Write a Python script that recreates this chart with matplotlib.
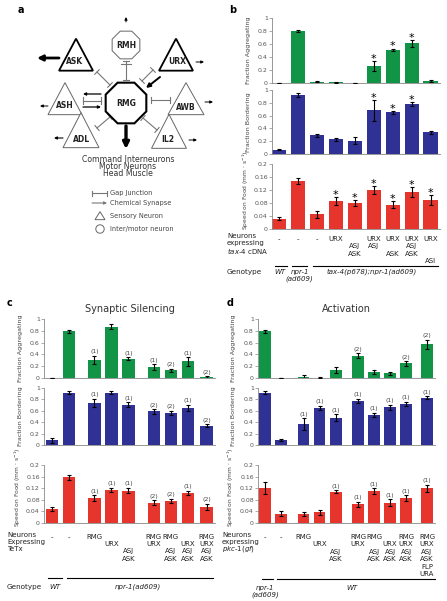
import numpy as np
import matplotlib
matplotlib.use('Agg')
import matplotlib.pyplot as plt
from matplotlib import transforms
from matplotlib.patches import Polygon, RegularPolygon, Circle

W, H = 447, 601
GREEN = '#129447'
BLUE = '#2f3194'
RED = '#e5352d'
GRAY = '#777777'

# ---- panel b : tax-4 rescue ----
b_x = [0, 1, 2, 3, 4, 5, 6, 7, 8]
b_agg = [0.0, 0.80, 0.02, 0.01, 0.0, 0.26, 0.51, 0.61, 0.03]
b_agg_err = [0.004, 0.02, 0.01, 0.005, 0.003, 0.08, 0.02, 0.05, 0.01]
b_agg_note = ['', '', '', '', '', '*', '*', '*', '']
b_bor = [0.07, 0.92, 0.29, 0.23, 0.21, 0.68, 0.65, 0.78, 0.34]
b_bor_err = [0.01, 0.03, 0.03, 0.02, 0.06, 0.16, 0.02, 0.03, 0.02]
b_bor_note = ['', '', '', '', '', '*', '*', '*', '']
b_spd = [0.032, 0.148, 0.045, 0.085, 0.080, 0.120, 0.075, 0.115, 0.090]
b_spd_err = [0.005, 0.01, 0.01, 0.012, 0.01, 0.012, 0.01, 0.015, 0.015]
b_spd_note = ['', '', '', '*', '*', '*', '*', '*', '*']
b_neurons = [['-'], ['-'], ['-'], ['URX'], ['', 'ASJ', 'ASK'], ['URX', 'ASJ'],
             ['URX', '', 'ASK'], ['URX', 'ASJ', 'ASK'], ['URX', '', '', 'ASI']]

# ---- panel c : synaptic silencing ----
c_x = [0, 1, 2.5, 3.5, 4.5, 6, 7, 8, 9.1]
c_agg = [0.0, 0.79, 0.31, 0.87, 0.33, 0.18, 0.13, 0.28, 0.01]
c_agg_err = [0.004, 0.02, 0.07, 0.04, 0.02, 0.05, 0.03, 0.07, 0.02]
c_agg_note = ['', '', '(1)', '', '(1)', '(1)', '(2)', '(1)', '(2)']
c_bor = [0.08, 0.92, 0.74, 0.92, 0.71, 0.59, 0.56, 0.65, 0.34]
c_bor_err = [0.04, 0.03, 0.07, 0.02, 0.04, 0.04, 0.04, 0.06, 0.03]
c_bor_note = ['', '', '(1)', '', '(1)', '(2)', '(2)', '(1)', '(2)']
c_spd = [0.048, 0.157, 0.085, 0.115, 0.112, 0.070, 0.076, 0.103, 0.056]
c_spd_err = [0.006, 0.008, 0.01, 0.007, 0.01, 0.008, 0.008, 0.008, 0.01]
c_spd_note = ['', '', '(1)', '(1)', '(1)', '(2)', '(2)', '(1)', '(2)']
c_neurons = [['-'], ['-'], ['RMG'], ['', 'URX'], ['', '', 'ASJ', 'ASK'],
             ['RMG', 'URX'], ['RMG', '', 'ASJ', 'ASK'], ['', 'URX', 'ASJ', 'ASK'],
             ['RMG', 'URX', 'ASJ', 'ASK']]

# ---- panel d : activation ----
d_x = [0, 1, 2.4, 3.4, 4.4, 5.8, 6.8, 7.8, 8.8, 10.1]
d_agg = [0.79, 0.0, 0.02, 0.005, 0.14, 0.38, 0.10, 0.08, 0.25, 0.57]
d_agg_err = [0.02, 0.003, 0.03, 0.005, 0.05, 0.04, 0.04, 0.03, 0.04, 0.08]
d_agg_note = ['', '', '', '', '', '(2)', '', '', '(2)', '(2)']
d_bor = [0.92, 0.09, 0.37, 0.65, 0.48, 0.77, 0.53, 0.66, 0.72, 0.83]
d_bor_err = [0.03, 0.02, 0.1, 0.04, 0.06, 0.04, 0.04, 0.05, 0.04, 0.03]
d_bor_note = ['', '', '(1)', '(1)', '(1)', '(1)', '(1)', '(1)', '(1)', '(1)']
d_spd = [0.120, 0.032, 0.032, 0.037, 0.108, 0.065, 0.109, 0.070, 0.086, 0.120]
d_spd_err = [0.02, 0.008, 0.007, 0.008, 0.006, 0.009, 0.01, 0.012, 0.01, 0.012]
d_spd_note = ['', '', '', '', '(1)', '(1)', '(1)', '(1)', '(1)', '(1)']
d_neurons = [['-'], ['-'], ['RMG'], ['', 'URX'], ['', '', 'ASJ', 'ASK'],
             ['RMG', 'URX'], ['RMG', '', 'ASJ', 'ASK'], ['', 'URX', 'ASJ', 'ASK'],
             ['RMG', 'URX', 'ASJ', 'ASK'],
             ['RMG', 'URX', 'ASJ', 'ASK', 'FLP', 'URA']]

fig = plt.figure(figsize=(W / 100, H / 100), dpi=100)


def fy(py):
    return 1 - py / H


def px_rect(l, t, r, b):
    return [l / W, 1 - b / H, (r - l) / W, (b - t) / H]


def tick_fmt(v):
    s = '%g' % round(v, 3)
    return s


def bar_axes(rect, x, vals, errs, color, ymax, step, ylabel, xlim, notes,
             lab_size=4.6, lab_y=0.5):
    ax = fig.add_axes(rect)
    ax.patch.set_alpha(0)
    ax.bar(x, vals, width=0.74, color=color, zorder=2)
    ax.errorbar(x, vals, yerr=errs, fmt='none', ecolor='black',
                elinewidth=0.8, capsize=1.6, capthick=0.8, zorder=3)
    ax.set_xlim(*xlim)
    ax.set_ylim(0, ymax)
    ticks = np.arange(0, ymax + step / 2, step)
    ax.set_yticks(ticks)
    ax.set_yticklabels([tick_fmt(t) for t in ticks])
    ax.set_xticks([])
    for s in ['top', 'right']:
        ax.spines[s].set_visible(False)
    for s in ['left', 'bottom']:
        ax.spines[s].set_color('#888888')
        ax.spines[s].set_linewidth(0.6)
    ax.tick_params(axis='y', length=2, width=0.5, color='#888888',
                   labelsize=4.5, labelcolor='#555555', pad=1)
    ax.set_ylabel(ylabel, fontsize=lab_size, color='#444444', labelpad=1.5)
    ax.yaxis.set_label_coords(-0.125 if ymax > 0.5 else -0.125, lab_y)
    for xi, v, e, n in zip(x, vals, errs, notes):
        if n == '*':
            ax.annotate(n, (xi, v + e), xytext=(0, -2), textcoords='offset points',
                        ha='center', va='bottom', fontsize=8, color='black')
        elif n:
            ax.annotate(n, (xi, v + e), xytext=(0, 1), textcoords='offset points',
                        ha='center', va='bottom', fontsize=4.5, color='#444444')
    return ax


def neuron_rows(ax, x, rows, y0, dy):
    tr = transforms.blended_transform_factory(ax.transData, fig.transFigure)
    for xi, col in zip(x, rows):
        for k, name in enumerate(col):
            if name:
                ax.text(xi, fy(y0 + k * dy), name, transform=tr, ha='center',
                        va='center', fontsize=5.0, color='#222222', clip_on=False)


def geno_line(ax, x0, x1, py):
    tr = transforms.blended_transform_factory(ax.transData, fig.transFigure)
    ax.plot([x0, x1], [fy(py), fy(py)], transform=tr, color='black',
            lw=0.8, clip_on=False)


def geno_text(ax, xi, py, s):
    tr = transforms.blended_transform_factory(ax.transData, fig.transFigure)
    ax.text(xi, fy(py), s, transform=tr, ha='center', va='center', fontsize=5.0,
            style='italic', color='#222222', clip_on=False)


AGG = 'Fraction Aggregating'
BOR = 'Fraction Bordering'
SPD = r'Speed on Food (mm $\cdot$ s$^{-1}$)'

# ---------------- panel b ----------------
bx = (-0.35, 8.5)
bar_axes(px_rect(272, 18, 440, 83), b_x, b_agg, b_agg_err, GREEN, 1, 0.2, AGG, bx, b_agg_note)
bar_axes(px_rect(272, 90, 440, 154), b_x, b_bor, b_bor_err, BLUE, 1, 0.2, BOR, bx, b_bor_note)
axb = bar_axes(px_rect(272, 164, 440, 229), b_x, b_spd, b_spd_err, RED, 0.2, 0.04, SPD, bx,
               b_spd_note, lab_size=4.3, lab_y=0.6)
neuron_rows(axb, b_x, b_neurons, 239, 7.4)
for k, s in enumerate(['Neurons', 'expressing', r'$\mathit{tax}$-$\mathit{4}$ cDNA']):
    fig.text(227 / W, fy(236 + k * 7.4), s, fontsize=5.0, va='center', color='#222222')
fig.text(227 / W, fy(272), 'Genotype', fontsize=5.2, va='center', color='#222222')
geno_line(axb, -0.19, 0.44, 266)
geno_line(axb, 0.7, 1.5, 266)
geno_line(axb, 1.8, 8.4, 266)
geno_text(axb, 0.07, 272, 'WT')
geno_text(axb, 1.1, 272, 'npr-1')
geno_text(axb, 1.1, 279, '(ad609)')
geno_text(axb, 4.9, 272, 'tax-4(p678);npr-1(ad609)')

# ---------------- panel c ----------------
cx = (-0.47, 9.6)
ax = bar_axes(px_rect(44, 319, 215, 378), c_x, c_agg, c_agg_err, GREEN, 1, 0.2, AGG, cx, c_agg_note)
ax.set_title('Synaptic Silencing', fontsize=7, color='#333333', pad=5)
bar_axes(px_rect(44, 388, 215, 445), c_x, c_bor, c_bor_err, BLUE, 1, 0.2, BOR, cx, c_bor_note)
axc = bar_axes(px_rect(44, 465, 215, 523), c_x, c_spd, c_spd_err, RED, 0.2, 0.04, SPD, cx,
               c_spd_note, lab_size=4.3, lab_y=0.62)
neuron_rows(axc, c_x, c_neurons, 537, 7.2)
for k, s in enumerate(['Neurons', 'Expressing', 'TeTx']):
    fig.text(7 / W, fy(535 + k * 7.2), s, fontsize=5.0, va='center', color='#222222')
fig.text(7 / W, fy(587), 'Genotype', fontsize=5.2, va='center', color='#222222')
geno_line(axc, -0.24, 0.59, 578)
geno_line(axc, 0.88, 9.47, 578)
geno_text(axc, 0.18, 587, 'WT')
geno_text(axc, 5.06, 587, 'npr-1(ad609)')

# ---------------- panel d ----------------
dx = (-0.44, 10.6)
ax = bar_axes(px_rect(258, 319, 435, 378), d_x, d_agg, d_agg_err, GREEN, 1, 0.2, AGG, dx, d_agg_note)
ax.set_title('Activation', fontsize=7, color='#333333', pad=5)
bar_axes(px_rect(258, 388, 435, 445), d_x, d_bor, d_bor_err, BLUE, 1, 0.2, BOR, dx, d_bor_note)
axd = bar_axes(px_rect(258, 465, 435, 523), d_x, d_spd, d_spd_err, RED, 0.2, 0.04, SPD, dx,
               d_spd_note, lab_size=4.3, lab_y=0.62)
neuron_rows(axd, d_x, d_neurons, 537, 7.4)
for k, s in enumerate(['Neurons', 'expressing', r'$\mathit{pkc}$-$\mathit{1(gf)}$']):
    fig.text(222 / W, fy(535 + k * 7.2), s, fontsize=5.0, va='center', color='#222222')
geno_line(axd, -0.19, 0.5, 579)
geno_line(axd, 0.75, 10.6, 579)
geno_text(axd, 0.0, 588, 'npr-1')
geno_text(axd, 0.0, 595, '(ad609)')
geno_text(axd, 5.44, 588, 'WT')

# ---------------- panel a : circuit diagram ----------------
axa = fig.add_axes([0, 1 - 285 / H, 225 / W, 285 / H])
axa.set_xlim(0, 225)
axa.set_ylim(285, 0)
axa.axis('off')


def tri(cx, cy, w, h, thick):
    pts = [(cx, cy - h * 2 / 3), (cx - w / 2, cy + h / 3), (cx + w / 2, cy + h / 3)]
    axa.add_patch(Polygon(pts, closed=True, fc='white',
                          ec='black' if thick else '#666666',
                          lw=1.3 if thick else 0.7, zorder=3))


def octo(cx, cy, r, thick):
    axa.add_patch(RegularPolygon((cx, cy), 8, radius=r, orientation=np.pi / 8,
                                 fc='white', ec='black' if thick else '#666666',
                                 lw=1.5 if thick else 0.7, zorder=3))


def gap(p1, p2, bar=3.2):
    p1, p2 = np.array(p1, float), np.array(p2, float)
    d = (p2 - p1) / np.linalg.norm(p2 - p1)
    n = np.array([-d[1], d[0]])
    axa.plot([p1[0], p2[0]], [p1[1], p2[1]], color=GRAY, lw=0.8)
    for p in (p1, p2):
        axa.plot([p[0] - n[0] * bar, p[0] + n[0] * bar],
                 [p[1] - n[1] * bar, p[1] + n[1] * bar], color=GRAY, lw=0.8)


def arrow(p1, p2, lw=0.8, ms=5, color='black'):
    axa.annotate('', xy=p2, xytext=p1,
                 arrowprops=dict(arrowstyle='-|>', color=color, lw=lw,
                                 mutation_scale=ms, shrinkA=0, shrinkB=0))


lab = dict(ha='center', va='center', fontsize=5.5, fontweight='bold',
           color='#222222', zorder=4)
fig.text(18 / W, fy(10), 'a', fontsize=7, fontweight='bold', va='center')
fig.text(229 / W, fy(10), 'b', fontsize=7, fontweight='bold', va='center')
fig.text(7 / W, fy(303), 'c', fontsize=7, fontweight='bold', va='center')
fig.text(227 / W, fy(303), 'd', fontsize=7, fontweight='bold', va='center')

# nodes
octo(126, 45, 15, False)
axa.text(126, 45, 'RMH', **lab)
octo(126, 103, 22, True)
axa.text(126, 103, 'RMG', **lab)
tri(76, 60, 34, 32, True)
axa.text(75, 61, 'ASK', **lab)
tri(176, 60, 34, 32, True)
axa.text(177, 61, 'URX', **lab)
tri(65, 104, 34, 32, False)
axa.text(65, 105, 'ASH', **lab)
tri(186, 104, 36, 32, False)
axa.text(186, 107, 'AWB', **lab)
tri(81, 136, 36, 35, False)
axa.text(82, 139, 'ADL', **lab)
tri(169, 137, 35, 34, False)
axa.text(168, 140, 'IL2', **lab)

# connections
gap((126, 61), (126, 80))
axa.plot([121, 131], [64, 64], color=GRAY, lw=0.8)
gap((97, 72), (110, 85))
gap((153, 70), (142, 81))
arrow((160, 77), (146, 88), lw=1.4, ms=6)
arrow((101, 94), (83, 94), lw=0.9, ms=4)
gap((83, 100.5), (101, 100.5))
arrow((83, 107), (101, 107), lw=0.9, ms=4)
gap((151, 100), (170, 100))
gap((97, 128), (110, 117))
gap((143, 118), (157, 130))

# outputs
arrow((126, 22), (126, 17), lw=0.7, ms=4)
arrow((59, 58), (37, 58), lw=2.0, ms=8)
arrow((196, 62), (204, 62), lw=0.7, ms=4)
arrow((48, 106), (40, 106), lw=0.7, ms=4)
arrow((205, 102), (213, 102), lw=0.7, ms=4)
arrow((63, 138), (54, 138), lw=0.8, ms=4)
arrow((189, 140), (197, 140), lw=0.7, ms=4)
arrow((126, 126), (126, 149), lw=2.4, ms=9)

for k, s in enumerate(['Command Interneurons', 'Motor Neurons', 'Head Muscle']):
    axa.text(128, 159 + k * 7.5, s, ha='center', va='center', fontsize=5.6, color='#333333')

# legend
gap((92, 193), (107, 193), bar=2.5)
axa.text(110, 193, 'Gap Junction', va='center', fontsize=4.8, color='#444444')
arrow((92, 203), (107, 203), lw=0.8, ms=4, color=GRAY)
axa.text(110, 203, 'Chemical Synapse', va='center', fontsize=4.8, color='#444444')
tri(100, 217, 10, 8, False)
axa.text(110, 216, 'Sensory Neuron', va='center', fontsize=4.8, color='#444444')
axa.add_patch(Circle((100, 229), 4.2, fc='white', ec='#666666', lw=0.7))
axa.text(110, 229, 'Inter/motor neuron', va='center', fontsize=4.8, color='#444444')

fig.savefig('out.png', dpi=100)
